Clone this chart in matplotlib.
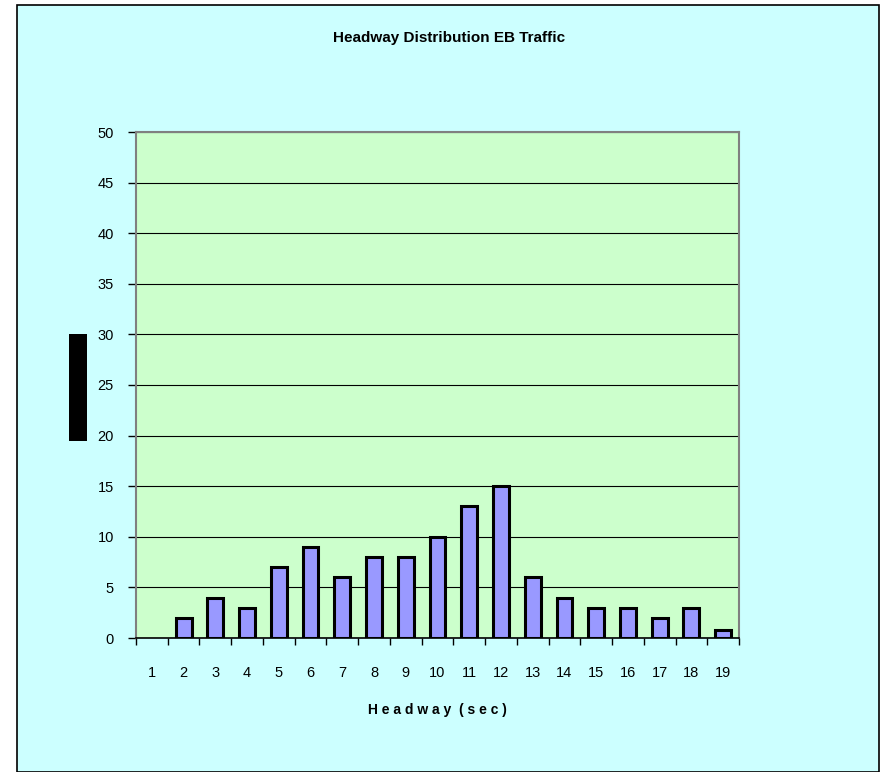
import matplotlib
matplotlib.use("Agg")
import matplotlib.pyplot as plt
from matplotlib.patches import Rectangle
from matplotlib.ticker import FixedLocator, NullFormatter

headway = list(range(1, 20))
counts = [0, 2, 4, 3, 7, 9, 6, 8, 8, 10, 13, 15, 6, 4, 3, 3, 2, 3, 0.8]
yticks = [0, 5, 10, 15, 20, 25, 30, 35, 40, 45, 50]

W, H = 881, 772
fig = plt.figure(figsize=(W / 100, H / 100), dpi=100)
fig.patch.set_facecolor("white")
plt.rcParams['font.family'] = ['Liberation Sans', 'DejaVu Sans']

# chart area frame
fig.patches.append(Rectangle((17 / W, 0), (879 - 17) / W, (H - 5) / H,
                             transform=fig.transFigure, facecolor="#CCFFFF",
                             edgecolor="black", linewidth=1.2, zorder=0))
# black y-label block
fig.patches.append(Rectangle((69 / W, 1 - 441 / H), 18 / W, (441 - 334) / H,
                             transform=fig.transFigure, facecolor="black",
                             edgecolor="none", zorder=1))

ax = fig.add_axes([136 / W, 1 - 638 / H, (739 - 136) / W, (638 - 132) / H])
ax.set_zorder(5)
ax.set_facecolor("#CCFFCC")
edges = ["black" if c > 0 else "none" for c in counts]
ax.bar(headway, counts, width=0.5, color="#9999FF", edgecolor=edges,
       linewidth=2.2, zorder=3)
ax.set_xlim(0.5, 19.5)
ax.set_ylim(0, 50)
ax.set_yticks(yticks)
ax.yaxis.grid(True, color="black", linewidth=0.8, zorder=1)
ax.set_axisbelow(True)
for s in ax.spines.values():
    s.set_color("#808080")
    s.set_linewidth(1.5)
ax.spines["bottom"].set_color("black")
ax.spines["bottom"].set_linewidth(1.2)

ax.set_xticks(headway)
ax.tick_params(axis="x", which="major", length=0, pad=20, labelsize=10.5)
ax.xaxis.set_minor_locator(FixedLocator([x + 0.5 for x in range(0, 20)]))
ax.xaxis.set_minor_formatter(NullFormatter())
ax.tick_params(axis="x", which="minor", length=5, width=1, color="black", direction="out")
ax.tick_params(axis="y", length=6, width=1, color="black", pad=10, labelsize=10.5)

ax.set_xlabel("H e a d w a y  ( s e c )", fontsize=10, fontweight="bold", labelpad=17)
fig.text(449 / W, 1 - 38 / H, "Headway Distribution EB Traffic", ha="center",
         va="center", fontsize=11, fontweight="bold")

fig.savefig("out.png", dpi=100, facecolor=fig.get_facecolor())
